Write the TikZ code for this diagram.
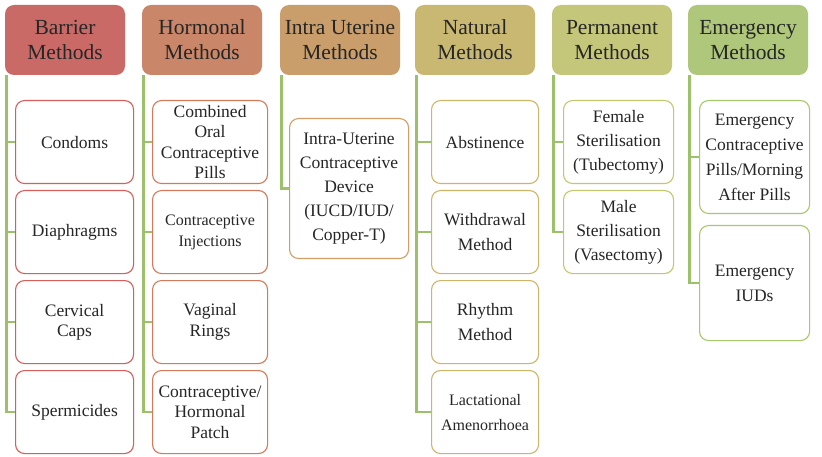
\documentclass[tikz,border=0pt]{standalone}
\usepackage{fontspec}
\setmainfont{Liberation Serif}
\begin{document}
\begin{tikzpicture}[x=1pt,y=-1pt,
  hdr/.style={rounded corners=9pt, minimum width=120pt, minimum height=70pt, inner sep=1pt, align=center, font=\fontsize{21.5}{25}\selectfont, text=black!85},
  kid/.style={draw, line width=1.1pt, fill=white, rounded corners=9pt, inner sep=1pt, align=center, font=\fontsize{17.5}{20.5}\selectfont, text=black!85, anchor=north west},
  small/.style={font=\fontsize{16}{21}\selectfont},
  conn/.style={draw=lgreen, line width=2.5pt}
]
\definecolor{h1c}{HTML}{C96A66}
\definecolor{h2c}{HTML}{C98668}
\definecolor{h3c}{HTML}{C99E6B}
\definecolor{h4c}{HTML}{C8B872}
\definecolor{h5c}{HTML}{C4C77A}
\definecolor{h6c}{HTML}{AEC77A}
\definecolor{b1c}{HTML}{D45F5C}
\definecolor{b2c}{HTML}{D37A5C}
\definecolor{b3c}{HTML}{D19E68}
\definecolor{b4c}{HTML}{CDB66A}
\definecolor{b5c}{HTML}{C3C76E}
\definecolor{b6c}{HTML}{A9C86E}
\definecolor{lgreen}{HTML}{9DC06A}
\useasboundingbox (0,0) rectangle (822,457);
\fill[white] (0,0) rectangle (822,457);

% Barrier
\node[kid, draw=b1c, minimum width=118pt, minimum height=83pt] (a1) at (15,100) {Condoms};
\node[kid, draw=b1c, minimum width=118pt, minimum height=83pt] (a2) at (15,190) {Diaphragms};
\node[kid, draw=b1c, minimum width=118pt, minimum height=83pt] (a3) at (15,280) {Cervical\\Caps};
\node[kid, draw=b1c, minimum width=118pt, minimum height=83pt] (a4) at (15,370) {Spermicides};
% Hormonal
\node[kid, draw=b2c, minimum width=115pt, minimum height=83pt] (b1) at (152,100) {Combined\\Oral\\Contraceptive\\Pills};
\node[kid, draw=b2c, minimum width=115pt, minimum height=83pt, small] (b2) at (152,190) {Contraceptive\\Injections};
\node[kid, draw=b2c, minimum width=115pt, minimum height=83pt] (b3) at (152,280) {Vaginal\\Rings};
\node[kid, draw=b2c, minimum width=115pt, minimum height=83pt] (b4) at (152,370) {Contraceptive/\\Hormonal\\Patch};
% Intra uterine
\node[kid, draw=b3c, minimum width=119pt, minimum height=140pt, font=\fontsize{17.5}{24}\selectfont] (c1) at (289,118) {Intra-Uterine\\Contraceptive\\Device\\(IUCD/IUD/\\Copper-T)};
% Natural
\node[kid, draw=b4c, minimum width=107pt, minimum height=83pt] (d1) at (431,100) {Abstinence};
\node[kid, draw=b4c, minimum width=107pt, minimum height=83pt, font=\fontsize{17.5}{25}\selectfont] (d2) at (431,190) {Withdrawal\\Method};
\node[kid, draw=b4c, minimum width=107pt, minimum height=83pt, font=\fontsize{17.5}{25}\selectfont] (d3) at (431,280) {Rhythm\\Method};
\node[kid, draw=b4c, minimum width=107pt, minimum height=83pt, font=\fontsize{16}{25}\selectfont] (d4) at (431,370) {Lactational\\Amenorrhoea};
% Permanent
\node[kid, draw=b5c, minimum width=110pt, minimum height=83pt, font=\fontsize{17.5}{24}\selectfont] (e1) at (563,100) {Female\\Sterilisation\\(Tubectomy)};
\node[kid, draw=b5c, minimum width=110pt, minimum height=83pt, font=\fontsize{17.5}{24}\selectfont] (e2) at (563,190) {Male\\Sterilisation\\(Vasectomy)};
% Emergency
\node[kid, draw=b6c, minimum width=110pt, minimum height=113pt, font=\fontsize{17.5}{25}\selectfont] (f1) at (699,100) {Emergency\\Contraceptive\\Pills/Morning\\After Pills};
\node[kid, draw=b6c, minimum width=110pt, minimum height=115pt, font=\fontsize{17.5}{25}\selectfont] (f2) at (699,225) {Emergency\\IUDs};

% Headers
\node[hdr, fill=h1c] (h1) at (65,40) {Barrier\\Methods};
\node[hdr, fill=h2c] (h2) at (202,40) {Hormonal\\Methods};
\node[hdr, fill=h3c] (h3) at (340,40) {Intra Uterine\\Methods};
\node[hdr, fill=h4c] (h4) at (475,40) {Natural\\Methods};
\node[hdr, fill=h5c] (h5) at (612,40) {Permanent\\Methods};
\node[hdr, fill=h6c] (h6) at (748,40) {Emergency\\Methods};

% Connectors
\foreach \h/\c in {h1/a1,h1/a2,h1/a3,h1/a4,h2/b1,h2/b2,h2/b3,h2/b4,h3/c1,h4/d1,h4/d2,h4/d3,h4/d4,h5/e1,h5/e2,h6/f1,h6/f2}
  \draw[conn] ([xshift=1.5pt]\h.south west) |- (\c.west);
\end{tikzpicture}
\end{document}
